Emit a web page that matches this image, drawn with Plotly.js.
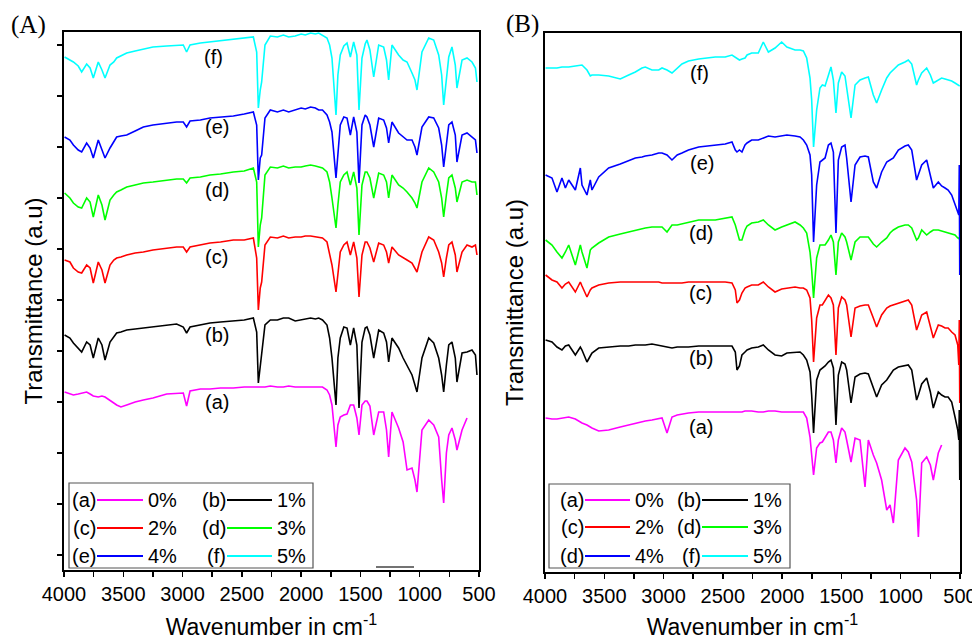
<!DOCTYPE html>
<html><head><meta charset="utf-8">
<script src="https://cdn.plot.ly/plotly-3.0.1.min.js"></script>
<style>html,body{margin:0;padding:0;background:#fff}#chart{width:972px;height:640px}</style>
</head><body><div id="chart"></div>
<script>
// ---------- DATA ----------
// Panel (A): wavenumbers (cm^-1) and transmittance (arbitrary units, curves offset as drawn)
const wavenumberA = [3995,3950,3921,3880,3851,3809,3780,3753,3711,3680,3654,3612,3580,3556,3520,3471,3400,3331,3250,3134,3050,2994,2966,2937,2850,2769,2680,2572,2480,2403,2375,2361,2345,2333,2305,2260,2200,2150,2105,2050,2000,1965,1920,1880,1852,1820,1782,1760,1740,1706,1690,1670,1640,1613,1585,1557,1530,1512,1487,1460,1445,1420,1388,1346,1304,1280,1262,1234,1178,1140,1107,1065,1040,1023,981,924,882,840,815,798,775,755,728,700,686,643,601,559,530,517];
const aA = [208,206,205,206,207,208,206,204,203,204,203,200,197,195,193,195,198,200,202,206,207,207,194,209,211,211,212,212,213,213,213,213,213,213,213,214,213,213,214,213,213,213,213,213,213,213,210,205,195,153,175,183,185,186,195,195,182,165,195,199,199,194,165,188,188,170,143,188,172,158,130,132,120,108,170,180,175,163,120,97,147,165,172,160,150,170,182,null,null,null];
const bA = [265,262,257,252,248,258,255,242,262,255,240,258,263,267,268,270,271,272,273,275,276,273,267,273,275,277,278,279,280,282,268,217,235,242,275,280,280,282,282,279,280,281,282,281,282,280,275,262,242,195,242,262,273,272,255,272,255,192,258,272,273,265,242,270,267,258,238,262,252,242,235,225,215,208,242,262,257,242,225,208,235,255,258,242,218,247,248,250,245,225];
const cA = [340,338,332,328,327,335,332,317,338,330,317,335,340,342,343,345,347,348,350,352,353,353,348,353,355,357,358,360,360,362,342,290,312,318,355,363,362,364,362,363,363,364,364,363,363,362,358,345,335,308,328,348,355,358,345,358,342,303,345,358,358,352,338,357,355,348,337,353,345,342,340,337,332,328,348,363,360,348,337,323,342,355,358,345,328,348,355,353,355,345];
const dA = [407,402,397,393,392,402,398,383,405,395,380,400,405,408,410,413,415,417,418,420,421,421,417,422,423,425,426,428,429,432,418,353,375,382,425,433,432,434,432,433,433,434,435,434,433,432,428,418,402,372,395,418,425,428,415,428,412,365,415,428,428,422,402,427,425,418,402,425,415,412,408,402,397,392,418,432,428,418,402,383,405,422,425,412,398,418,420,418,418,405];
const eA = [463,460,455,450,448,457,452,442,460,450,442,452,458,463,464,465,469,473,475,477,478,478,473,479,480,482,483,484,486,488,475,420,442,445,482,490,488,490,488,490,492,491,493,492,490,490,485,478,468,422,445,475,483,482,465,483,468,417,475,485,483,475,453,482,480,472,457,478,467,463,460,460,453,445,473,483,482,472,455,433,458,475,478,465,438,465,467,463,460,447];
const fA = [543,540,538,534,528,536,532,522,538,530,522,535,538,542,544,547,549,551,553,554,555,555,548,555,557,558,559,561,562,563,548,492,510,518,555,564,563,565,563,564,566,565,567,566,567,565,562,555,542,485,525,545,554,557,543,558,545,490,542,556,560,550,523,555,553,540,520,555,545,540,538,527,520,510,548,562,560,545,525,495,525,543,553,535,512,540,542,538,532,518];

// Panel (B)
const wavenumberB = [3995,3941,3899,3857,3828,3800,3744,3702,3688,3646,3618,3604,3547,3463,3365,3294,3238,3182,3154,3098,3041,3013,2971,2929,2885,2845,2790,2704,2564,2480,2423,2395,2381,2360,2339,2313,2296,2257,2201,2159,2116,2060,2004,1960,1891,1849,1821,1793,1765,1751,1735,1709,1681,1661,1638,1610,1588,1568,1546,1526,1498,1470,1456,1419,1385,1343,1301,1273,1231,1203,1161,1118,1090,1062,1020,964,936,907,866,851,823,781,750,725,683,655,626,600,570,542,519,510,506,502];
const aB = [182,181,181,182,183,183,181,178,177,175,173,172,169,170,173,175,177,178,179,180,181,182,167,183,185,186,187,188,188,188,188,188,188,188,188,189,189,189,188,188,189,189,188,188,188,188,188,182,163,145,125,152,157,158,162,168,168,160,137,160,172,168,160,138,162,160,113,160,145,137,120,90,95,77,140,152,148,138,100,63,137,143,135,120,147,155,null,null,null,null,null,null,null,null];
const bB = [260,258,253,250,254,255,245,253,250,238,244,247,252,253,254,254,255,255,255,256,255,254,253,252,253,253,253,254,254,254,254,248,230,234,245,248,250,252,253,255,250,245,244,247,248,248,245,240,228,205,167,220,230,232,234,238,240,232,175,225,238,236,230,197,223,226,227,226,212,203,215,220,225,230,233,234,235,230,200,205,216,222,208,192,208,205,203,203,198,183,170,160,190,120];
const cB = [325,320,318,312,316,318,308,318,314,303,310,312,315,317,318,318,318,318,318,318,318,317,317,317,317,317,318,318,318,318,317,310,297,300,307,312,313,315,315,318,313,308,311,312,313,312,312,310,302,280,238,282,295,295,300,305,302,295,245,292,303,300,295,263,292,294,295,295,282,273,285,292,294,295,297,299,300,295,270,275,285,288,275,262,275,274,272,272,268,265,255,235,280,197];
const dB = [360,355,348,342,348,355,335,355,348,332,350,352,357,363,366,368,370,371,372,373,373,373,368,375,375,376,378,380,380,382,383,375,368,360,360,370,374,377,378,380,375,370,373,375,378,375,372,367,348,330,302,342,355,355,355,360,365,358,325,358,367,363,358,340,358,363,363,363,356,353,358,362,367,370,373,375,375,372,360,362,370,365,368,370,370,369,368,367,366,365,362,362,361,360];
const eB = [425,422,408,422,412,420,410,432,415,405,420,410,423,432,436,439,442,443,444,445,447,447,445,440,445,447,450,453,455,456,458,450,448,450,448,455,457,460,460,462,464,463,464,465,464,463,460,455,445,425,358,415,438,440,442,455,457,448,367,440,453,455,442,398,435,443,444,443,418,412,428,438,440,442,450,454,455,450,420,425,435,440,425,412,418,414,412,410,405,395,388,385,435,325];
const fB = [532,532,532,533,533,533,534,535,535,530,524,525,525,524,521,525,528,532,533,530,530,532,530,527,532,536,539,541,543,543,545,543,542,540,541,542,545,547,547,558,548,552,558,553,550,550,549,542,522,500,453,490,512,515,514,525,533,520,487,517,528,524,513,482,515,520,522,523,505,497,510,522,527,530,535,538,540,536,515,520,527,532,525,517,520,522,521,520,519,517,515,515,514,514];

const curveTags = ['(a)','(b)','(c)','(d)','(e)','(f)'];
const legendTagsA = ['(a)','(b)','(c)','(d)','(e)','(f)'];
const legendTagsB = ['(a)','(b)','(c)','(d)','(d)','(f)'];
const percentLabels = ['0%','1%','2%','3%','4%','5%'];
const xTickLabels = [4000,3500,3000,2500,2000,1500,1000,500];

// ---------- STYLE / LAYOUT ----------
const colors = ['#FF00FF','#000000','#FF0000','#00FF00','#0000FF','#00FFFF'];
const W = 972, H = 640;
const PX = v => v / W, PY = v => 1 - v / H;
const SANS = '"Liberation Sans", Arial, sans-serif';
const SERIF = '"Liberation Serif", "Times New Roman", serif';

const seriesA = [aA,bA,cA,dA,eA,fA];
const seriesB = [aB,bB,cB,dB,eB,fB];
const traces = [];
seriesA.forEach((s,i) => traces.push({x: wavenumberA, y: s, xaxis:'x', yaxis:'y', type:'scatter', mode:'lines',
  line:{color: colors[i], width: 1.6}, name: percentLabels[i], showlegend:false, hoverinfo:'skip'}));
seriesB.forEach((s,i) => traces.push({x: wavenumberB, y: s, xaxis:'x2', yaxis:'y2', type:'scatter', mode:'lines',
  line:{color: colors[i], width: 1.6}, name: percentLabels[i], showlegend:false, hoverinfo:'skip'}));

function xAxis(domain, anchor) {
  return {domain, anchor, range:[4000,500], tickmode:'array', tickvals: xTickLabels, ticktext: xTickLabels.map(String),
    ticks:'outside', ticklen:5, tickwidth:1.5, tickcolor:'#000', ticklabeloverflow:'allow',
    minor:{tickmode:'linear', tick0:250, dtick:500, ticks:'outside', ticklen:5, tickwidth:1.5, tickcolor:'#000'},
    showline:true, linewidth:2, linecolor:'#000', mirror:true, showgrid:false, zeroline:false,
    tickfont:{family:SANS, size:20, color:'#000'},
    title:{text:'Wavenumber in cm<sup>-1</sup>', font:{family:SANS, size:23, color:'#000'}, standoff:15}};
}
function yAxis(domain, anchor, range, withTicks) {
  return {domain, anchor, range, tickmode:'linear', tick0:45, dtick:51, ticks: withTicks ? 'outside' : '', ticklen:5, tickwidth:1.2,
    tickcolor:'#000', showticklabels:false, showline:true, linewidth:2, linecolor:'#000', mirror:true,
    showgrid:false, zeroline:false,
    title:{text:'Transmittance (a.u)', font:{family:SANS, size:24, color:'#000'}, standoff: withTicks ? 8 : 13}};
}

const annotations = [];
const shapes = [];
annotations.push({xref:'paper', yref:'paper', x:PX(28), y:PY(25), text:'(A)', showarrow:false,
  font:{family:SERIF, size:25, color:'#000'}, xanchor:'center', yanchor:'middle'});
annotations.push({xref:'paper', yref:'paper', x:PX(522), y:PY(24), text:'(B)', showarrow:false,
  font:{family:SERIF, size:25, color:'#000'}, xanchor:'center', yanchor:'middle'});

const labelPosA = [[217,402],[217,335],[216,257],[217,190],[217,127],[213,57]];
const labelPosB = [[701,427],[701,358],[700,293],[701,233],[702,163],[699,73]];
[labelPosA, labelPosB].forEach(pos => pos.forEach((p,i) => annotations.push({xref:'paper', yref:'paper',
  x:PX(p[0]), y:PY(p[1]), text: curveTags[i], showarrow:false, font:{family:SANS, size:20, color:'#000'},
  xanchor:'center', yanchor:'middle'})));

const legendGeom = [
  {tags: legendTagsA, box:[69,483,313,568], rows:[500,528,556], cols:[[97,143],[227,272]]},
  {tags: legendTagsB, box:[549,484,790,568], rows:[500,527,556], cols:[[585,630],[702,748]]}
];
legendGeom.forEach(g => {
  shapes.push({type:'rect', xref:'paper', yref:'paper', x0:PX(g.box[0]), x1:PX(g.box[2]), y0:PY(g.box[1]), y1:PY(g.box[3]),
    line:{color:'#555', width:1.2}, fillcolor:'rgba(255,255,255,1)', layer:'above'});
  for (let i = 0; i < 6; i++) {
    const r = Math.floor(i/2), c = i % 2;
    const y = PY(g.rows[r]);
    shapes.push({type:'line', xref:'paper', yref:'paper', x0:PX(g.cols[c][0]), x1:PX(g.cols[c][1]), y0:y, y1:y,
      line:{color: colors[i], width:2}, layer:'above'});
    annotations.push({xref:'paper', yref:'paper', x:PX(g.cols[c][0]), y, text:g.tags[i], showarrow:false,
      xanchor:'right', yanchor:'middle', font:{family:SANS, size:20, color:'#000'}, borderpad:0});
    annotations.push({xref:'paper', yref:'paper', x:PX(g.cols[c][1] + 4), y, text:percentLabels[i], showarrow:false,
      xanchor:'left', yanchor:'middle', font:{family:SANS, size:20, color:'#000'}, borderpad:0});
  }
});
// small stray bar near the bottom of panel (A)
shapes.push({type:'line', xref:'paper', yref:'paper', x0:PX(376), x1:PX(414), y0:PY(567), y1:PY(567),
  line:{color:'#444', width:1.5}, layer:'above'});

const layout = {
  width: W, height: H, margin:{l:0, r:0, t:0, b:0}, paper_bgcolor:'#fff', plot_bgcolor:'#fff',
  showlegend:false, font:{family:SANS, color:'#000'},
  xaxis: xAxis([PX(64), PX(479)], 'y'),
  yaxis: yAxis([PY(570), PY(32)], 'x', [30, 568], true),
  xaxis2: xAxis([PX(545), PX(960)], 'y2'),
  yaxis2: yAxis([PY(572), PY(33)], 'x2', [28, 567], false),
  annotations, shapes
};
Plotly.newPlot('chart', traces, layout, {staticPlot:true, displayModeBar:false});
</script></body></html>
